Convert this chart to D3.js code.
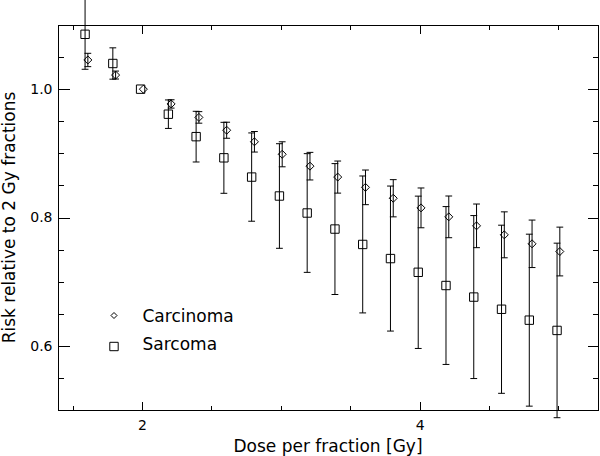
<!DOCTYPE html>
<html>
<head>
<meta charset="utf-8">
<script src="https://cdn.jsdelivr.net/npm/d3@7"></script>
<style>
  body { margin: 0; background: #fff; }
  text { font-family: "DejaVu Sans", sans-serif; fill: #000; }
</style>
</head>
<body>
<div id="chart"></div>
<script>
// data
const doses = [1.6, 1.8, 2.0, 2.2, 2.4, 2.6, 2.8, 3.0, 3.2, 3.4, 3.6, 3.8, 4.0, 4.2, 4.4, 4.6, 4.8, 5.0]
const carcinomaRisk = [1.0455, 1.022, 1.0, 0.977, 0.956, 0.936, 0.918, 0.8985, 0.880, 0.863, 0.847, 0.830, 0.815, 0.801, 0.787, 0.773, 0.759, 0.747]
const carcinomaErr = [0.0104, 0.0062, 0, 0.0065, 0.009, 0.0125, 0.016, 0.0195, 0.0215, 0.025, 0.027, 0.029, 0.031, 0.0325, 0.034, 0.0358, 0.037, 0.038]
const sarcomaRisk = [1.0855, 1.040, 1.0, 0.961, 0.926, 0.893, 0.863, 0.8335, 0.807, 0.782, 0.758, 0.736, 0.7146, 0.694, 0.676, 0.657, 0.640, 0.624]
const sarcomaErr = [0.0545, 0.0244, 0, 0.0222, 0.0395, 0.0553, 0.0688, 0.0815, 0.0925, 0.102, 0.1067, 0.113, 0.1187, 0.123, 0.127, 0.131, 0.134, 0.136]

const xMajor = [2, 4]
const xMinor = [1.5, 2.5, 3, 3.5, 4.5, 5]
const yMajor = [0.6, 0.8, 1.0]
const yMinor = [0.55, 0.65, 0.7, 0.75, 0.85, 0.9, 0.95, 1.05]

const width = 600, height = 456
const plotLeft = 58, plotRight = 598, plotTop = 25, plotBottom = 410

const x = d3.scaleLinear().domain([1.395, 5.285]).range([plotLeft, plotRight])
const y = d3.scaleLinear().domain([0.5, 1.1]).range([plotBottom, plotTop])

const svg = d3.select("#chart").append("svg")
  .attr("width", width)
  .attr("height", height)

// frame
svg.append("rect")
  .attr("x", plotLeft + 0.5).attr("y", plotTop + 0.5)
  .attr("width", plotRight - plotLeft).attr("height", plotBottom - plotTop)
  .attr("fill", "none").attr("stroke", "#000").attr("stroke-width", 1)
  .attr("shape-rendering", "crispEdges")

// axes: ticks point inward on all four sides
const addAxis = (axis, tx, ty) => {
  const g = svg.append("g").attr("transform", `translate(${tx},${ty})`).call(axis)
  g.select(".domain").remove()
  g.selectAll("line").attr("stroke", "#000").attr("shape-rendering", "crispEdges")
  g.selectAll("text").style("font-size", "14px").attr("fill", "#000")
  return g
}

addAxis(d3.axisBottom(x).tickValues(xMajor).tickSize(-8.5).tickPadding(10).tickFormat(d3.format("d")), 0, plotBottom + 0.5)
addAxis(d3.axisBottom(x).tickValues(xMinor).tickSize(-4.5).tickFormat(""), 0, plotBottom + 0.5)
addAxis(d3.axisTop(x).tickValues(xMajor).tickSize(-8.5).tickFormat(""), 0, plotTop + 0.5)
addAxis(d3.axisTop(x).tickValues(xMinor).tickSize(-4.5).tickFormat(""), 0, plotTop + 0.5)

addAxis(d3.axisLeft(y).tickValues(yMajor).tickSize(-11).tickPadding(6).tickFormat(d3.format(".1f")), plotLeft + 0.5, 0)
addAxis(d3.axisLeft(y).tickValues(yMinor).tickSize(-5.5).tickFormat(""), plotLeft + 0.5, 0)
addAxis(d3.axisRight(y).tickValues(yMajor).tickSize(-11).tickFormat(""), plotRight + 0.5, 0)
addAxis(d3.axisRight(y).tickValues(yMinor).tickSize(-5.5).tickFormat(""), plotRight + 0.5, 0)

// error bars with caps
const capW = 3.4
const drawSeries = (risk, err, dx, shape) => {
  const pts = doses.map((d, i) => ({ x: d + dx, v: risk[i], e: err[i] }))
  const g = svg.append("g").attr("stroke", "#000").attr("stroke-width", 1).attr("fill", "none")
  const bars = g.selectAll("g.bar").data(pts.filter(p => p.e > 0)).join("g")
  bars.append("line")
    .attr("x1", p => x(p.x)).attr("x2", p => x(p.x))
    .attr("y1", p => y(p.v + p.e)).attr("y2", p => y(p.v - p.e))
  bars.append("line")
    .attr("x1", p => x(p.x) - capW).attr("x2", p => x(p.x) + capW)
    .attr("y1", p => y(p.v + p.e)).attr("y2", p => y(p.v + p.e))
  bars.append("line")
    .attr("x1", p => x(p.x) - capW).attr("x2", p => x(p.x) + capW)
    .attr("y1", p => y(p.v - p.e)).attr("y2", p => y(p.v - p.e))
  g.selectAll("path.mark").data(pts).join("path")
    .attr("d", p => shape(x(p.x), y(p.v)))
}

const square = s => (cx, cy) => `M${cx - s},${cy - s}H${cx + s}V${cy + s}H${cx - s}Z`
const diamond = s => (cx, cy) => `M${cx - s},${cy}L${cx},${cy - s}L${cx + s},${cy}L${cx},${cy + s}Z`

drawSeries(sarcomaRisk, sarcomaErr, -0.01, square(4.2))
drawSeries(carcinomaRisk, carcinomaErr, 0.01, diamond(4))

// legend
const legend = svg.append("g")
legend.append("path").attr("d", diamond(3)(114, 315.5))
  .attr("fill", "none").attr("stroke", "#000")
legend.append("text").attr("x", 142.5).attr("y", 321.5).style("font-size", "17px").text("Carcinoma")
legend.append("path").attr("d", square(4.2)(114, 346.5))
  .attr("fill", "none").attr("stroke", "#000")
legend.append("text").attr("x", 142.5).attr("y", 350).style("font-size", "17px").text("Sarcoma")

// axis titles
svg.append("text")
  .attr("x", (plotLeft + plotRight) / 2).attr("y", 451.5)
  .attr("text-anchor", "middle")
  .style("font-size", "17px")
  .text("Dose per fraction [Gy]")

svg.append("text")
  .attr("transform", `translate(14.5,${(plotTop + plotBottom) / 2}) rotate(-90)`)
  .attr("text-anchor", "middle")
  .style("font-size", "17px")
  .text("Risk relative to 2 Gy fractions")
</script>
</body>
</html>
